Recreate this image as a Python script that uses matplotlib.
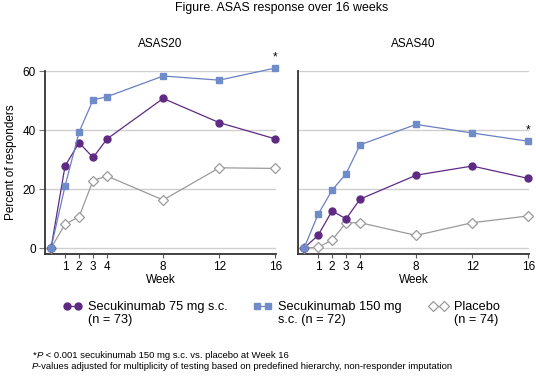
import matplotlib
matplotlib.use("Agg")
import matplotlib.pyplot as plt
from matplotlib.text import Annotation

plt.rcParams["font.family"] = ["Liberation Sans", "DejaVu Sans"]

# Данные
WEEKS = [0, 1, 2, 3, 4, 8, 12, 16]
XTICKS = [1, 2, 3, 4, 8, 12, 16]
YTICKS = [0, 20, 40, 60]

ASAS20_75 = [0, 27.8, 35.7, 30.7, 37.0, 50.7, 42.5, 37.0]
ASAS20_150 = [0, 21.0, 39.3, 50.2, 51.3, 58.3, 56.9, 61.0]
ASAS20_PBO = [0, 8.1, 10.6, 22.9, 24.4, 16.3, 27.2, 27.0]

ASAS40_75 = [0, 4.3, 12.6, 9.9, 16.6, 24.7, 27.8, 23.6]
ASAS40_150 = [0, 11.4, 19.6, 25.2, 35.0, 41.9, 39.0, 36.2]
ASAS40_PBO = [0, 0.3, 2.7, 8.6, 8.6, 4.3, 8.6, 10.9]

PANEL_TITLES = ["ASAS20", "ASAS40"]
LEGEND_LINE1 = ["Secukinumab 75 mg s.c.", "Secukinumab 150 mg", "Placebo"]
LEGEND_LINE2 = ["(n = 73)", "s.c. (n = 72)", "(n = 74)"]

FOOT1 = [("*", "normal"), ("P", "italic"),
         (" < 0.001 secukinumab 150 mg s.c. vs. placebo at Week 16", "normal")]
FOOT2 = [("P", "italic"),
         ("-values adjusted for multiplicity of testing based on predefined "
          "hierarchy, non-responder imputation", "normal")]

PURPLE = "#5e2a84"
BLUE = "#6f8cc8"
BLUE_LINE = "#6a80c0"
GRAY = "#9a9a9a"

W, H = 536, 384
fig = plt.figure(figsize=(W / 100, H / 100), dpi=100)

ax_left = fig.add_axes([45 / W, 130 / H, 231 / W, 183 / H])
ax_right = fig.add_axes([298 / W, 130 / H, 231 / W, 183 / H])

panels = [
    (ax_left, ASAS20_75, ASAS20_150, ASAS20_PBO),
    (ax_right, ASAS40_75, ASAS40_150, ASAS40_PBO),
]

handles = []
for i, (ax, s75, s150, pbo) in enumerate(panels):
    ax.set_xlim(-0.43, 16.05)
    ax.set_ylim(-2, 60)
    for y in YTICKS:
        ax.axhline(y, color="#cfcfcf", lw=1.0, zorder=0)
    h3, = ax.plot(WEEKS, pbo, color=GRAY, lw=0.9, marker="D", ms=5,
                  mfc="white", mec=GRAY, mew=0.9, clip_on=False, zorder=3)
    h1, = ax.plot(WEEKS, s75, color=PURPLE, lw=0.9, marker="o", ms=5,
                  mfc=PURPLE, mec=PURPLE, clip_on=False, zorder=4)
    h2, = ax.plot(WEEKS, s150, color=BLUE_LINE, lw=0.9, marker="s", ms=4.8,
                  mfc=BLUE, mec=BLUE, clip_on=False, zorder=5)
    handles = [h1, h2, h3]
    # звёздочка у последней точки 150 мг
    ax.annotate("*", (WEEKS[-1], s150[-1]), xytext=(0, 3.5),
                textcoords="offset points", ha="center", va="bottom",
                fontsize=8.5, annotation_clip=False)
    ax.set_title(PANEL_TITLES[i], fontsize=8.5, pad=17)
    ax.set_xticks(XTICKS)
    ax.tick_params(axis="x", labelsize=8.5, length=3, width=0.8, pad=2,
                   color="#555555")
    ax.set_xlabel("Week", fontsize=8.5, labelpad=0.5)
    for side in ["top", "right"]:
        ax.spines[side].set_visible(False)
    ax.spines["left"].set_linewidth(1.3)
    ax.spines["bottom"].set_linewidth(1.3)
    ax.spines["left"].set_color("#333333")
    ax.spines["bottom"].set_color("#333333")

ax_left.set_yticks(YTICKS)
ax_left.tick_params(axis="y", labelsize=8.5, length=4, width=0.8, pad=2.5,
                    color="#777777")
ax_left.set_ylabel("Percent of responders", fontsize=8.5, labelpad=4)
ax_right.set_yticks(YTICKS)
ax_right.tick_params(axis="y", left=False, labelleft=False)

fig.text(282 / W, 1 - 8 / H, "Figure. ASAS response over 16 weeks",
         ha="center", va="center", fontsize=8.9)

# легенда: по одному элементу, чтобы поставить колонки как в оригинале
legend_x = [63, 253, 429]
legends = []
for h, label, x in zip(handles, LEGEND_LINE1, legend_x):
    leg = fig.legend([h], [label], loc="center left",
                     bbox_to_anchor=(x / W, 1 - 307 / H), frameon=False,
                     fontsize=9.2, numpoints=2, handlelength=1.5,
                     handletextpad=0.45, borderaxespad=0, borderpad=0)
    legends.append(leg)

# вторая строка подписей легенды под первой
fig.canvas.draw()
renderer = fig.canvas.get_renderer()
for leg, line2 in zip(legends, LEGEND_LINE2):
    bb = leg.get_texts()[0].get_window_extent(renderer)
    yc = (bb.y0 + bb.y1) / 2 - 13.5
    fig.text(bb.x0 / W, yc / H, line2, fontsize=9.2, ha="left", va="center")


# сноска: курсивная P отдельным текстом, остальное пристыковано справа
def chain(x, y, parts, size=6.8):
    t = fig.text(x / W, 1 - y / H, parts[0][0], fontsize=size,
                 style=parts[0][1], ha="left", va="center")
    for s, style in parts[1:]:
        t = fig.add_artist(Annotation(s, xy=(1, 0.5), xycoords=t,
                                      fontsize=size, style=style,
                                      ha="left", va="center"))
    return t


chain(33, 355, FOOT1)
chain(32, 366.5, FOOT2)

fig.savefig("out.png", dpi=100)
